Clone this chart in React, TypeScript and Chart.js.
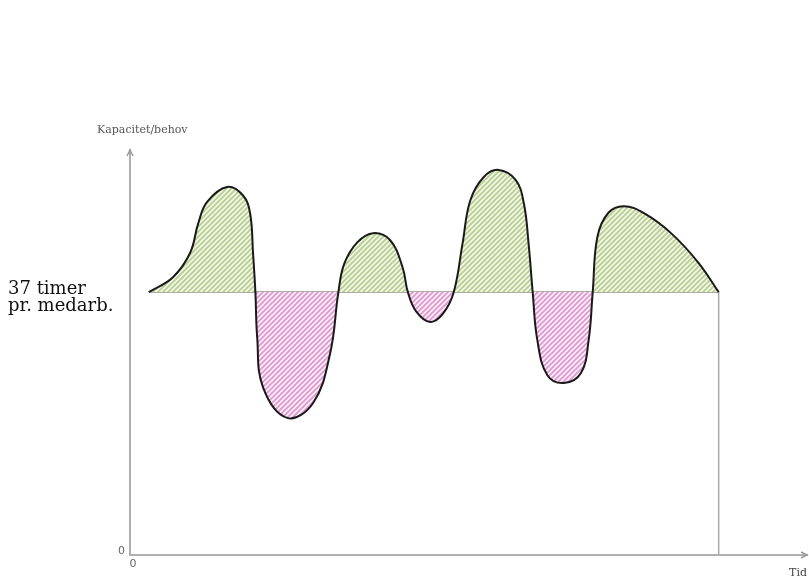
import React, { useEffect, useRef } from "react";
import { Chart, registerables } from "chart.js";

Chart.register(...registerables);

// Time (x) and capacity/need (y) readings along the curve
const TIME = [3.2, 7.3, 10.2, 11.6, 13.1, 16.5, 19.2, 20.4, 20.9, 21.3, 21.6, 22.6, 26.7, 31.1, 34.0, 35.4, 36.4, 38.6, 41.3, 44.2, 46.3, 47.2, 48.6, 51.0, 53.2, 55.0, 56.5, 57.8, 60.1, 62.6, 65.5, 66.9, 67.7, 68.4, 69.2, 70.9, 73.7, 76.6, 77.9, 78.6, 79.4, 81.3, 83.9, 87.3, 91.9, 96.5, 100];
const CAPACITY = [37, 39.1, 42.5, 46.7, 49.7, 51.8, 50.6, 48.1, 42.5, 37, 30.7, 23.6, 19.3, 21.4, 28.4, 37, 41.0, 44.0, 45.3, 44.3, 40.5, 37, 34.3, 32.8, 34.0, 37, 43.9, 49.9, 53.2, 54.2, 52.8, 49.5, 43.9, 37, 30.2, 25.3, 24.2, 25.6, 30.2, 37, 44.8, 48.2, 49.1, 48.1, 45.3, 41.2, 37];
const BASELINE = 37;
const BASELINE_LABEL = ["37 timer", "pr. medarb."];
const Y_TITLE = "Kapacitet/behov";
const X_TITLE = "Tid";
const ZERO_LABEL = "0";
const X_MAX = 115;
const Y_MAX = 57;

function hatch(bg: string, fg: string) {
  const s = 5;
  const c = document.createElement("canvas");
  c.width = s;
  c.height = s;
  const g = c.getContext("2d")!;
  g.fillStyle = bg;
  g.fillRect(0, 0, s, s);
  g.strokeStyle = fg;
  g.lineWidth = 1.7;
  g.beginPath();
  g.moveTo(0, s);
  g.lineTo(s, 0);
  g.moveTo(-1, 1);
  g.lineTo(1, -1);
  g.moveTo(s - 1, s + 1);
  g.lineTo(s + 1, s - 1);
  g.stroke();
  return g.createPattern(c, "repeat")!;
}

const AXIS_COLOR = "#b0b0b0";

export default function App() {
  const ref = useRef<HTMLCanvasElement>(null);
  useEffect(() => {
    if (!ref.current) return;
    const green = hatch("#f1f5e6", "#b8cd90");
    const pink = hatch("#fbeef7", "#e096cf");
    const curve = TIME.map((t, i) => ({ x: t, y: CAPACITY[i] }));
    const end = TIME[TIME.length - 1];

    const extras = {
      id: "extras",
      afterDraw(chart: any) {
        const { ctx, chartArea } = chart;
        ctx.save();
        ctx.strokeStyle = "#9a9a9a";
        ctx.lineWidth = 1.5;
        ctx.beginPath();
        ctx.moveTo(chartArea.left - 3, chartArea.top + 6);
        ctx.lineTo(chartArea.left, chartArea.top);
        ctx.lineTo(chartArea.left + 3, chartArea.top + 6);
        ctx.stroke();
        ctx.beginPath();
        ctx.moveTo(chartArea.right - 6, chartArea.bottom - 3);
        ctx.lineTo(chartArea.right, chartArea.bottom);
        ctx.lineTo(chartArea.right - 6, chartArea.bottom + 3);
        ctx.stroke();
        ctx.fillStyle = "#555";
        ctx.font = "11px 'DejaVu Serif'";
        ctx.textAlign = "left";
        ctx.textBaseline = "middle";
        ctx.fillText(Y_TITLE, 97, 130);
        ctx.restore();
      },
    };

    const chart = new Chart(ref.current, {
      type: "line",
      data: {
        datasets: [
          {
            data: curve,
            borderColor: "#1a1a1a",
            borderWidth: 2,
            pointRadius: 0,
            tension: 0.4,
            fill: { target: { value: BASELINE }, above: green, below: pink } as any,
            order: 0,
          },
          {
            data: [
              { x: TIME[0], y: BASELINE },
              { x: end, y: BASELINE },
            ],
            borderColor: "#8f9482",
            borderWidth: 1.5,
            pointRadius: 0,
            fill: false,
            order: 1,
          },
          {
            data: [
              { x: end, y: BASELINE },
              { x: end, y: 0 },
            ],
            borderColor: "#aaaaaa",
            borderWidth: 1.5,
            pointRadius: 0,
            fill: false,
            order: 1,
          },
        ],
      },
      options: {
        animation: false,
        responsive: false,
        devicePixelRatio: 1,
        layout: { padding: { left: 8, top: 150, right: 2, bottom: 0 } },
        plugins: { legend: { display: false }, tooltip: { enabled: false } },
        scales: {
          x: {
            type: "linear",
            min: 0,
            max: X_MAX,
            grid: { display: false, drawTicks: false },
            border: { display: true, color: AXIS_COLOR, width: 2 },
            afterBuildTicks: (s: any) => {
              s.ticks = [{ value: 0 }];
            },
            afterFit: (s: any) => {
              s.height = 26;
            },
            ticks: {
              callback: () => ZERO_LABEL,
              color: "#666",
              font: { family: "DejaVu Sans", size: 11 },
              padding: 3,
              labelOffset: 3,
              maxRotation: 0,
            },
            title: {
              display: true,
              text: X_TITLE,
              align: "end",
              color: "#444",
              font: { family: "DejaVu Serif", size: 11 },
              padding: { top: 0, bottom: 1 },
            },
          },
          y: {
            type: "linear",
            position: "left",
            min: 0,
            max: Y_MAX,
            weight: 0,
            grid: { display: false, drawTicks: false },
            border: { display: true, color: AXIS_COLOR, width: 2 },
            afterBuildTicks: (s: any) => {
              s.ticks = [{ value: 0 }];
            },
            afterFit: (s: any) => {
              s.width = 14;
            },
            ticks: {
              callback: () => ZERO_LABEL,
              color: "#666",
              font: { family: "DejaVu Sans", size: 11 },
              padding: 5,
              labelOffset: -4,
            },
          },
          y2: {
            type: "linear",
            position: "left",
            min: 0,
            max: Y_MAX,
            weight: 1,
            grid: { display: false, drawTicks: false },
            border: { display: false },
            afterBuildTicks: (s: any) => {
              s.ticks = [{ value: BASELINE }];
            },
            afterFit: (s: any) => {
              s.width = 108;
            },
            ticks: {
              callback: () => BASELINE_LABEL,
              color: "#111",
              crossAlign: "far",
              font: { family: "DejaVu Serif", size: 18, lineHeight: 0.95 },
              padding: 0,
              labelOffset: 6,
            },
          },
        },
      } as any,
      plugins: [extras],
    });
    return () => chart.destroy();
  }, []);

  return (
    <div style={{ position: "absolute", left: 0, top: 0, width: 809, height: 581, background: "#fff" }}>
      <canvas ref={ref} width={809} height={581} style={{ display: "block" }} />
    </div>
  );
}
